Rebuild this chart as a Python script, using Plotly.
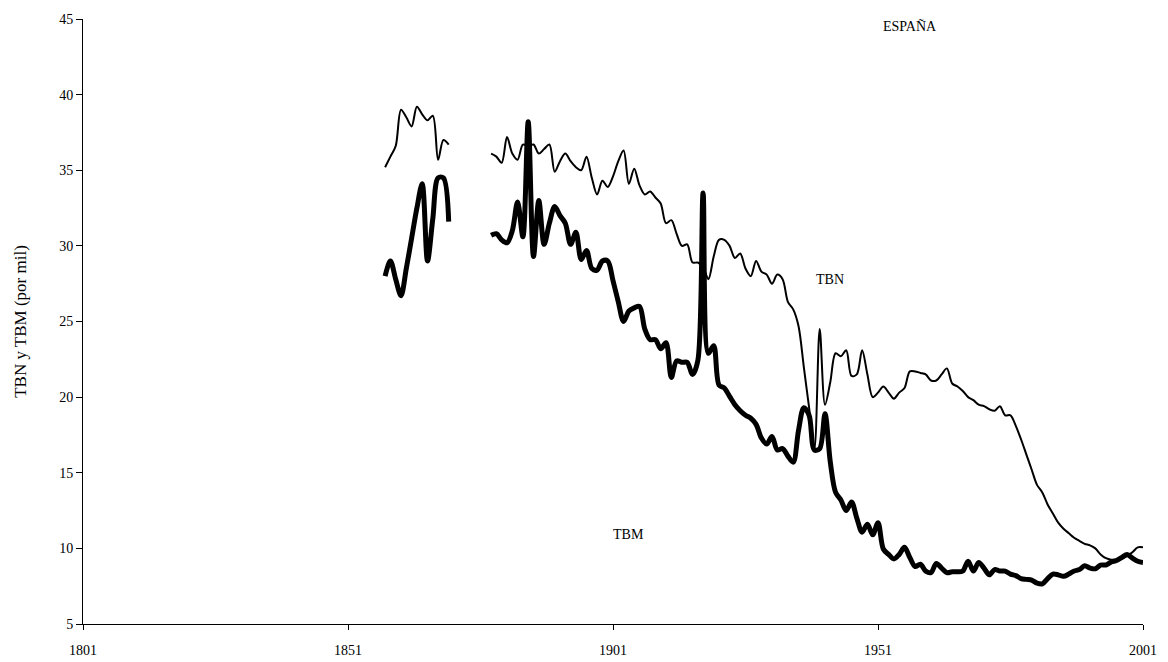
import plotly.graph_objects as go

# ---- data (per mil) ----
years_1 = list(range(1858, 1871))
tbn_1 = [35.2, 35.9, 36.6, 39.0, 38.5, 37.9, 39.2, 38.7, 38.3, 38.6, 35.7, 37.0, 36.7]
tbm_1 = [28.0, 29.0, 27.8, 26.7, 28.5, 30.5, 32.5, 34.1, 29.0, 31.8, 34.5, 34.5, 31.6]

years_2 = list(range(1878, 2002))
tbn_2 = [
    36.1, 35.9,                                                   # 1878-79
    35.5, 37.2, 36.1, 35.7, 36.7, 36.6, 36.7, 36.1, 36.4, 36.7,   # 1880s
    34.9, 35.6, 36.1, 35.6, 35.2, 35.0, 35.9, 34.5, 33.4, 34.3,   # 1890s
    33.9, 34.6, 35.6, 36.3, 34.1, 35.1, 34.0, 33.4, 33.6, 33.2,   # 1900s
    32.8, 31.5, 31.7, 30.8, 30.0, 30.1, 28.9, 28.9, 28.6, 27.8,   # 1910s
    29.3, 30.4, 30.4, 30.0, 29.2, 29.5, 28.5, 28.0, 29.0, 28.3,   # 1920s
    28.1, 27.5, 28.1, 27.8, 26.3, 25.8, 24.7, 22.0, 19.3, 16.6,   # 1930s
    24.5, 19.5, 21.0, 22.9, 22.7, 23.1, 21.4, 21.5, 23.1, 21.5,   # 1940s
    20.0, 20.3, 20.7, 20.3, 19.9, 20.3, 20.6, 21.7, 21.7, 21.6,   # 1950s
    21.5, 21.1, 21.1, 21.5, 21.9, 20.9, 20.7, 20.4, 20.0, 19.8,   # 1960s
    19.5, 19.4, 19.2, 19.1, 19.4, 18.8, 18.8, 18.1, 17.2, 16.2,   # 1970s
    15.2, 14.2, 13.7, 12.9, 12.3, 11.7, 11.3, 11.0, 10.7, 10.5,   # 1980s
    10.3, 10.2, 10.0, 9.6, 9.35, 9.25, 9.25, 9.3, 9.5, 9.74,      # 1990s
    10.07, 10.07,                                                 # 2000-01
]
tbm_2 = [
    30.7, 30.8,                                                   # 1878-79
    30.4, 30.2, 31.0, 32.9, 30.6, 38.2, 29.3, 33.0, 30.1, 31.5,   # 1880s
    32.6, 32.0, 31.5, 30.1, 30.9, 29.1, 29.7, 28.5, 28.4, 29.0,   # 1890s
    29.0, 27.7, 26.3, 25.0, 25.7, 25.9, 26.0, 24.5, 23.8, 23.8,   # 1900s
    23.2, 23.6, 21.3, 22.4, 22.3, 22.3, 21.5, 22.4, 33.5, 22.9,   # 1910s
    23.4, 20.8, 20.6, 20.05, 19.5, 19.1, 18.8, 18.6, 18.2, 17.3,  # 1920s
    16.9, 17.4, 16.5, 16.6, 16.1, 15.7, 17.8, 19.3, 18.8, 16.5,   # 1930s
    16.6, 18.9, 15.7, 13.7, 13.2, 12.5, 13.07, 12.0, 11.07, 11.6, # 1940s
    10.9, 11.7, 9.96, 9.6, 9.3, 9.6, 10.07, 9.4, 8.8, 8.95,       # 1950s
    8.5, 8.4, 9.0, 8.7, 8.4, 8.45, 8.45, 8.5, 9.15, 8.5,          # 1960s
    9.07, 8.7, 8.25, 8.6, 8.5, 8.5, 8.3, 8.2, 8.0, 7.95,          # 1970s
    7.9, 7.7, 7.65, 8.0, 8.3, 8.25, 8.15, 8.3, 8.5, 8.6,          # 1980s
    8.85, 8.7, 8.65, 8.9, 8.9, 9.1, 9.2, 9.4, 9.6, 9.35,          # 1990s
    9.15, 9.07,                                                   # 2000-01
]

tick_years = [1801, 1851, 1901, 1951, 2001]
y_ticks = [5, 10, 15, 20, 25, 30, 35, 40, 45]

FONT = "Liberation Serif"

x_all = years_1 + [None] + years_2
tbn_all = tbn_1 + [None] + tbn_2
tbm_all = tbm_1 + [None] + tbm_2

fig = go.Figure()
fig.add_trace(go.Scatter(x=x_all, y=tbn_all, mode="lines", name="TBN",
                         line=dict(color="black", width=2, shape="spline", smoothing=0.9),
                         connectgaps=False))
fig.add_trace(go.Scatter(x=x_all, y=tbm_all, mode="lines", name="TBM",
                         line=dict(color="black", width=5, shape="spline", smoothing=0.9),
                         connectgaps=False))

fig.add_annotation(x=1957, y=44.5, text="ESPAÑA", showarrow=False,
                   font=dict(family=FONT, size=14, color="black"))
fig.add_annotation(x=1942, y=27.8, text="TBN", showarrow=False,
                   font=dict(family=FONT, size=14, color="black"))
fig.add_annotation(x=1904, y=10.9, text="TBM", showarrow=False,
                   font=dict(family=FONT, size=14, color="black"))

# page body has an 8px margin: size the figure so the plot area lands where the reference has it
fig.update_layout(
    width=1160, height=654,
    margin=dict(l=75, r=25, t=11, b=38),
    paper_bgcolor="white", plot_bgcolor="white",
    showlegend=False,
    font=dict(family=FONT, size=14, color="black"),
    xaxis=dict(range=[1801, 2001], tickvals=tick_years, ticks="outside", ticklen=5,
               tickcolor="black", showline=True, linecolor="black", linewidth=1,
               showgrid=False, zeroline=False, ticklabelstandoff=8, automargin=False,
               tickfont=dict(family=FONT, size=14)),
    yaxis=dict(range=[5, 45], tickvals=y_ticks, ticks="outside", ticklen=6,
               tickcolor="black", showline=True, linecolor="black", linewidth=1,
               showgrid=False, zeroline=False, automargin=False,
               title=dict(text="TBN y TBM (por mil)", font=dict(family=FONT, size=17),
                          standoff=28),
               tickfont=dict(family=FONT, size=14)),
)

fig.write_html("out.html")
